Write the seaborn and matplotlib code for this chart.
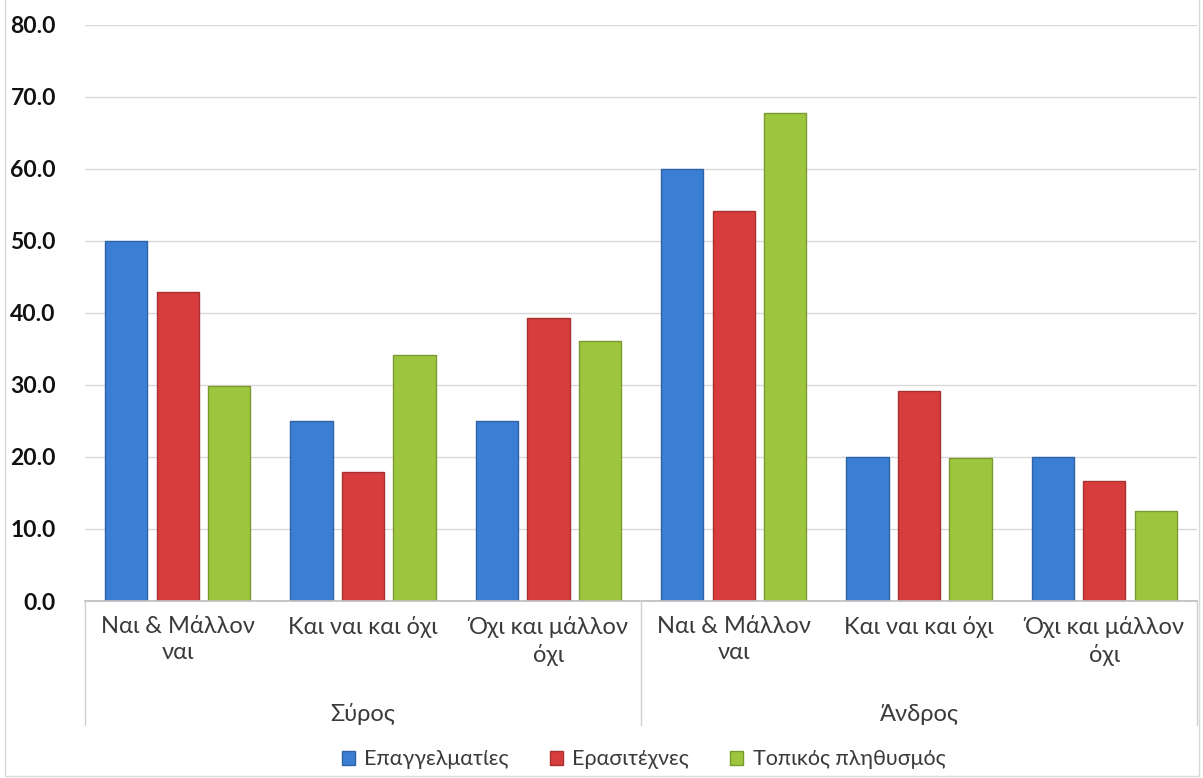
import pandas as pd
import matplotlib.pyplot as plt
import matplotlib.transforms as mtransforms
import matplotlib.colors as mcolors
from matplotlib.lines import Line2D
from matplotlib.patches import Rectangle
import seaborn as sns

# Data
islands = ["Σύρος", "Άνδρος"]
answers = ["Ναι & Μάλλον\nναι", "Και ναι και όχι", "Όχι και μάλλον\nόχι"]
groups = ["Επαγγελματίες", "Ερασιτέχνες", "Τοπικός πληθυσμός"]
professionals = [50.0, 25.0, 25.0, 60.0, 20.0, 20.0]
amateurs = [42.9, 17.9, 39.3, 54.1, 29.2, 16.6]
residents = [29.8, 34.1, 36.1, 67.8, 19.8, 12.5]
colors = ["#3b7fd4", "#d73d3c", "#9dc63e"]

# Long table for seaborn
cats = [f"{isl}|{ans}" for isl in islands for ans in answers]
rows = []
for g, vals in zip(groups, [professionals, amateurs, residents]):
    for c, v in zip(cats, vals):
        rows.append({"cat": c, "group": g, "value": v})
df = pd.DataFrame(rows)

sns.set_theme(style="white")
plt.rcParams['font.family'] = ['Lato', 'Open Sans', 'DejaVu Sans']

fig = plt.figure(figsize=(12.03, 7.78), dpi=100)
ax = fig.add_axes([0.0707, 0.2275, 0.9243, 0.7405])

sns.barplot(data=df, x="cat", y="value", hue="group", order=cats,
            hue_order=groups, palette=colors, saturation=1, width=0.835,
            gap=0.18, linewidth=1.0, ax=ax, legend=False)

# darker outline per series
for cont, col in zip(ax.containers, colors):
    dark = [c * 0.78 for c in mcolors.to_rgb(col)]
    for bar in cont:
        bar.set_edgecolor(dark)

ax.set_ylim(0, 80)
ax.set_xlim(-0.5, 5.5)
ax.set_yticks(range(0, 81, 10))
ax.set_yticklabels([f"{v:.1f}" for v in range(0, 81, 10)],
                   fontsize=16.5, fontweight="bold", color="#111111")
ax.set_xticks(range(len(cats)))
ax.set_xticklabels(answers * 2, fontsize=17, color="#3a3a3a", linespacing=1.3)
ax.tick_params(axis="x", length=0, pad=11)
ax.tick_params(axis="y", length=0, pad=21)
ax.set_xlabel("")
ax.set_ylabel("")
ax.yaxis.grid(True, color="#d9d9d9", linewidth=1.0)
ax.set_axisbelow(True)
for s in ["left", "top", "right"]:
    ax.spines[s].set_visible(False)
ax.spines["bottom"].set_color("#bfbfbf")

# island labels and separators below the axis
trans = mtransforms.blended_transform_factory(ax.transData, fig.transFigure)
for i, isl in enumerate(islands):
    fig.text(i * 3 + 1, 0.082, isl, transform=trans, ha="center", va="center",
             fontsize=17, color="#3a3a3a")
for xs in [-0.5, 2.5, 5.5]:
    fig.add_artist(Line2D([xs, xs], [0.2275, 0.068], transform=trans,
                          color="#d0d0d0", linewidth=1.0))

# legend
handles = [Rectangle((0, 0), 1, 1, facecolor=c,
                     edgecolor=[v * 0.78 for v in mcolors.to_rgb(c)])
           for c in colors]
fig.legend(handles, groups, loc="center", bbox_to_anchor=(0.535, 0.024),
           ncol=3, frameon=False, fontsize=15.5, handlelength=0.6,
           handleheight=0.6, handletextpad=0.45, columnspacing=1.9,
           labelcolor="#3a3a3a")

# light chart border
fig.add_artist(Rectangle((0.004, 0.002), 0.993, 1.2, transform=fig.transFigure,
                         fill=False, edgecolor="#d9d9d9", linewidth=1.0))

fig.savefig("out.png", dpi=100)
